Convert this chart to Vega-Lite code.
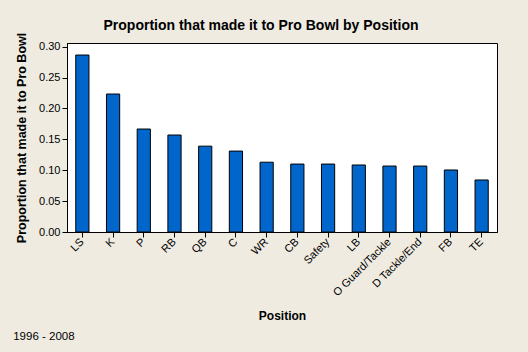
{
  "$schema": "https://vega.github.io/schema/vega-lite/v6.json",
  "autosize": {"type": "none"},
  "width": 430,
  "height": 189,
  "padding": {"left": 67, "top": 43, "right": 31, "bottom": 120},
  "background": "#EFEBE0",
  "title": {
    "text": "Proportion that made it to Pro Bowl by Position",
    "font": "Liberation Sans",
    "fontSize": 14,
    "fontWeight": "bold",
    "color": "#000000",
    "anchor": "middle",
    "dx": -21,
    "dy": 5
  },
  "config": {
    "view": {"stroke": "#000000", "strokeWidth": 1, "fill": "#FFFFFF"},
    "axis": {
      "labelFont": "Liberation Sans",
      "titleFont": "Liberation Sans",
      "labelColor": "#000000",
      "titleColor": "#000000",
      "tickColor": "#000000",
      "domainColor": "#000000",
      "grid": false
    }
  },
  "data": {
    "values": [
      {"Position": "LS", "Proportion": 0.2865},
      {"Position": "K", "Proportion": 0.2234},
      {"Position": "P", "Proportion": 0.1667},
      {"Position": "RB", "Proportion": 0.157},
      {"Position": "QB", "Proportion": 0.139},
      {"Position": "C", "Proportion": 0.131},
      {"Position": "WR", "Proportion": 0.113},
      {"Position": "CB", "Proportion": 0.110},
      {"Position": "Safety", "Proportion": 0.110},
      {"Position": "LB", "Proportion": 0.1085},
      {"Position": "O Guard/Tackle", "Proportion": 0.1068},
      {"Position": "D Tackle/End", "Proportion": 0.1068},
      {"Position": "FB", "Proportion": 0.1004},
      {"Position": "TE", "Proportion": 0.0842}
    ]
  },
  "encoding": {
    "x": {
      "field": "Position",
      "type": "nominal",
      "sort": null,
      "scale": {"paddingInner": 0.57, "paddingOuter": 0.285},
      "axis": {
        "title": "Position",
        "titleFontSize": 12,
        "titleFontWeight": "bold",
        "titleY": 87.5,
        "titleBaseline": "alphabetic",
        "labelAngle": -45,
        "labelAlign": "right",
        "labelBaseline": "middle",
        "labelFontSize": 11,
        "labelPadding": 3,
        "tickSize": 5,
        "domain": true
      }
    }
  },
  "layer": [
    {
      "mark": {"type": "bar", "fill": "#0066CC", "stroke": "#000000", "strokeWidth": 1},
      "encoding": {
        "y": {
          "field": "Proportion",
          "type": "quantitative",
          "scale": {"domain": [0, 0.306], "nice": false, "zero": true},
          "axis": {
            "title": "Proportion that made it to Pro Bowl",
            "titleFontSize": 12.5,
            "titleFontWeight": "bold",
            "titleX": -42,
            "titleY": 94.5,
            "titleAlign": "center",
            "titleBaseline": "alphabetic",
            "titleAngle": -90,
            "values": [0, 0.05, 0.1, 0.15, 0.2, 0.25, 0.3],
            "format": ".2f",
            "labelFontSize": 11,
            "labelPadding": 2,
            "tickSize": 5
          }
        }
      }
    },
    {
      "mark": {"type": "point", "opacity": 0},
      "encoding": {
        "y": {
          "field": "Proportion",
          "type": "quantitative",
          "scale": {"domain": [0, 0.306], "nice": false},
          "axis": {
            "orient": "right",
            "title": "1996 - 2008",
            "titleFontSize": 11.5,
            "titleFontWeight": "normal",
            "titleAngle": 0,
            "titleAlign": "left",
            "titleBaseline": "alphabetic",
            "titleX": -484.3,
            "titleY": 296.7,
            "domain": false,
            "ticks": false,
            "labels": false,
            "grid": false
          }
        }
      }
    }
  ],
  "resolve": {"scale": {"y": "independent"}}
}
